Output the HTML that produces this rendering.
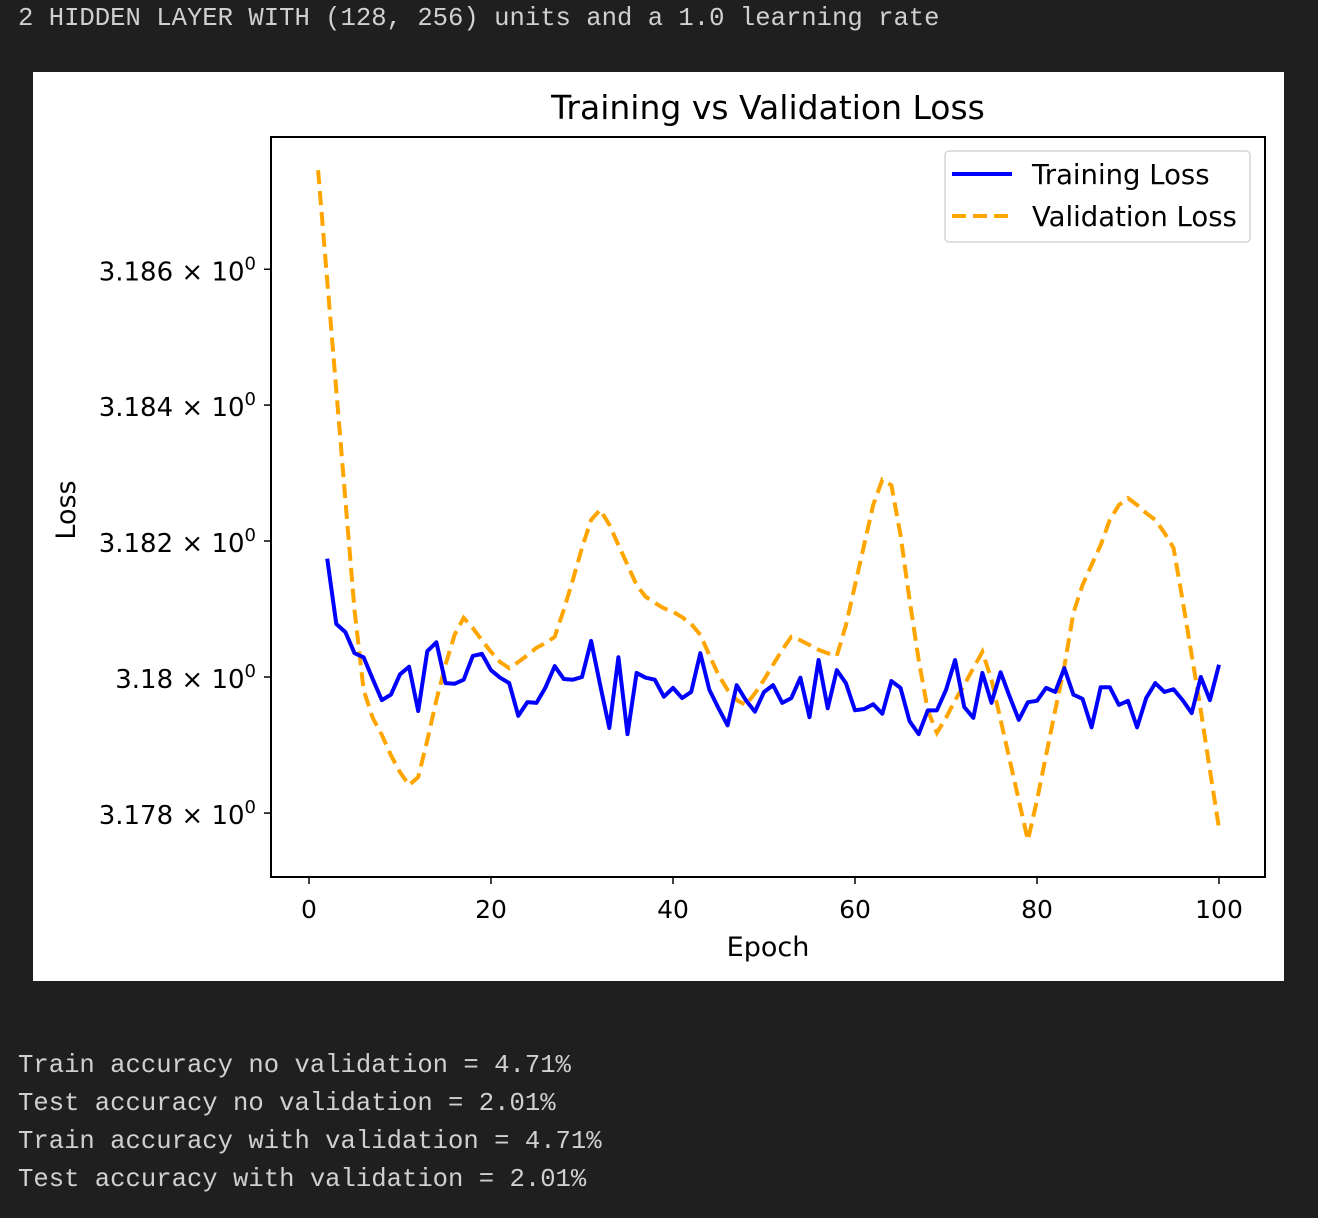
<!DOCTYPE html>
<html><head><meta charset="utf-8"><style>
html,body{margin:0;padding:0;background:#1f1f1f;width:1318px;height:1218px;overflow:hidden}
.mono{position:absolute;left:18px;font-family:"Liberation Mono",monospace;font-size:25.6px;color:#d0d0d0;white-space:pre;line-height:30px}
</style></head><body>
<div class="mono" style="top:4px">2 HIDDEN LAYER WITH (128, 256) units and a 1.0 learning rate</div>
<svg id="chart" width="1318" height="1218" style="position:absolute;left:0;top:0">
<rect x="33" y="72" width="1251" height="909" fill="#ffffff"/>
<g id="plot"></g>
</svg>
<div class="mono" style="top:1051px">Train accuracy no validation = 4.71%</div>
<div class="mono" style="top:1089px">Test accuracy no validation = 2.01%</div>
<div class="mono" style="top:1127px">Train accuracy with validation = 4.71%</div>
<div class="mono" style="top:1165px">Test accuracy with validation = 2.01%</div>
<script>
const trainEpochs=[2,3,4,5,6,7,8,9,10,11,12,13,14,15,16,17,18,19,20,21,22,23,24,25,26,27,28,29,30,31,32,33,34,35,36,37,38,39,40,41,42,43,44,45,46,47,48,49,50,51,52,53,54,55,56,57,58,59,60,61,62,63,64,65,66,67,68,69,70,71,72,73,74,75,76,77,78,79,80,81,82,83,84,85,86,87,88,89,90,91,92,93,94,95,96,97,98,99,100];
const trainLoss=[3.18174,3.18078,3.18066,3.18035,3.18029,3.17997,3.17966,3.17974,3.18004,3.18015,3.1795,3.18038,3.18051,3.17991,3.1799,3.17996,3.18031,3.18034,3.1801,3.17999,3.17991,3.17943,3.17963,3.17962,3.17985,3.18016,3.17997,3.17996,3.18,3.18053,3.17988,3.17925,3.18029,3.17916,3.18006,3.17999,3.17996,3.17971,3.17984,3.17969,3.17978,3.18035,3.17981,3.17954,3.17929,3.17988,3.17966,3.17949,3.17978,3.17988,3.17962,3.17969,3.17999,3.17941,3.18025,3.17954,3.1801,3.17991,3.17951,3.17953,3.1796,3.17946,3.17994,3.17984,3.17935,3.17916,3.17951,3.17951,3.17981,3.18025,3.17956,3.1794,3.18006,3.17962,3.18007,3.17971,3.17937,3.17963,3.17965,3.17984,3.17978,3.18013,3.17974,3.17968,3.17926,3.17985,3.17985,3.17959,3.17965,3.17926,3.17969,3.17991,3.17978,3.17982,3.17966,3.17947,3.18,3.17966,3.18018];
const valEpochs=[1,2,3,4,5,6,7,8,9,10,11,12,13,14,15,16,17,18,19,20,21,22,23,24,25,26,27,28,29,30,31,32,33,34,35,36,37,38,39,40,41,42,43,44,45,46,47,48,49,50,51,52,53,54,55,56,57,58,59,60,61,62,63,64,65,66,67,68,69,70,71,72,73,74,75,76,77,78,79,80,81,82,83,84,85,86,87,88,89,90,91,92,93,94,95,96,97,98,99,100];
const valLoss=[3.18746,3.18584,3.18422,3.1826,3.18099,3.17981,3.1794,3.17915,3.17885,3.1786,3.17841,3.17853,3.17907,3.17966,3.18018,3.18062,3.18087,3.18072,3.18054,3.18037,3.18022,3.18013,3.18022,3.18032,3.18043,3.1805,3.18059,3.18099,3.18143,3.1819,3.18231,3.18246,3.18224,3.18194,3.18165,3.18135,3.18118,3.18109,3.18101,3.18096,3.18088,3.18078,3.18062,3.18032,3.18003,3.17981,3.17966,3.17959,3.17976,3.17996,3.18018,3.1804,3.18059,3.18054,3.18047,3.1804,3.18035,3.18031,3.18076,3.18135,3.18194,3.18253,3.1829,3.18282,3.18209,3.18113,3.18025,3.17951,3.17918,3.1794,3.17966,3.17988,3.18013,3.18037,3.17996,3.17937,3.17878,3.17819,3.1776,3.17819,3.17885,3.17951,3.18015,3.18094,3.18135,3.18165,3.18194,3.18231,3.18253,3.18263,3.18253,3.18241,3.18231,3.18212,3.1819,3.18113,3.18032,3.17951,3.17863,3.17778];
const xTicks=[0,20,40,60,80,100];
const yTicks=[3.178,3.180,3.182,3.184,3.186];
const yTickLabels=["3.178","3.18","3.182","3.184","3.186"];

const NS="http://www.w3.org/2000/svg";
const g=document.getElementById('plot');
const L=271,R=1265,T=137,B=877;
function xs(e){return 309+(e-0)*(1219-309)/100;}
function ys(v){return 677-(Math.log10(v)-Math.log10(3.18))/(Math.log10(3.182)-Math.log10(3.18))*136;}
function mk(tag,attrs,parent){const el=document.createElementNS(NS,tag);for(const k in attrs)el.setAttribute(k,attrs[k]);(parent||g).appendChild(el);return el;}
const F='"DejaVu Sans","Liberation Sans",sans-serif';

let t=mk('text',{x:768,y:119,'text-anchor':'middle','font-family':F,'font-size':33,fill:'#000'});
t.textContent='Training vs Validation Loss';



xTicks.forEach(v=>{
  const x=xs(v);
  let l=mk('line',{x1:x,x2:x,y1:B,y2:B+7,stroke:'#000','stroke-width':1.5});
  
  
  let tx=mk('text',{x:x,y:918,'text-anchor':'middle','font-family':F,'font-size':25,fill:'#000'});
  tx.textContent=v;
  
  
});
yTicks.forEach((v,i)=>{
  const y=ys(v);
  let l=mk('line',{x1:L-7,x2:L,y1:y,y2:y,stroke:'#000','stroke-width':1.5});
  
  
  let tx=mk('text',{x:256,y:y+11,'text-anchor':'end','font-family':F,'font-size':26,fill:'#000'});
  
  
  const a=document.createElementNS(NS,'tspan');a.textContent=yTickLabels[i]+' \u00d7 10';tx.appendChild(a);
  const s=document.createElementNS(NS,'tspan');s.textContent='0';s.setAttribute('dy','-11');s.setAttribute('font-size','18');tx.appendChild(s);
});
t=mk('text',{x:768,y:956,'text-anchor':'middle','font-family':F,'font-size':27,fill:'#000'});
t.textContent='Epoch';


t=mk('text',{x:0,y:0,'text-anchor':'middle','font-family':F,'font-size':27,fill:'#000',transform:'translate(75,510) rotate(-90)'});
t.textContent='Loss';



let p=mk('polyline',{points:valEpochs.map((e,i)=>xs(e)+','+ys(valLoss[i])).join(' '),fill:'none',stroke:'#ffa500','stroke-width':4,'stroke-dasharray':'14,7'});


p=mk('polyline',{points:trainEpochs.map((e,i)=>xs(e)+','+ys(trainLoss[i])).join(' '),fill:'none',stroke:'#0000ff','stroke-width':4,'stroke-linejoin':'round'});



let fr=mk('rect',{x:L,y:T,width:R-L,height:B-T,fill:'none',stroke:'#000','stroke-width':2});



let lg=mk('g',{});


mk('rect',{x:945,y:151,width:305,height:91,rx:4,fill:'#fff',stroke:'#d6d6d6','stroke-width':1.5},lg);
let e1=mk('line',{x1:952,x2:1012,y1:174,y2:174,stroke:'#0000ff','stroke-width':4},lg);


let e2=mk('line',{x1:952,x2:1012,y1:216,y2:216,stroke:'#ffa500','stroke-width':4,'stroke-dasharray':'14,7'},lg);


let t1=mk('text',{x:1032,y:184,'font-family':F,'font-size':27.5,fill:'#000'},lg);t1.textContent='Training Loss';


let t2=mk('text',{x:1032,y:226,'font-family':F,'font-size':27.5,fill:'#000'},lg);t2.textContent='Validation Loss';


</script>
</body></html>
